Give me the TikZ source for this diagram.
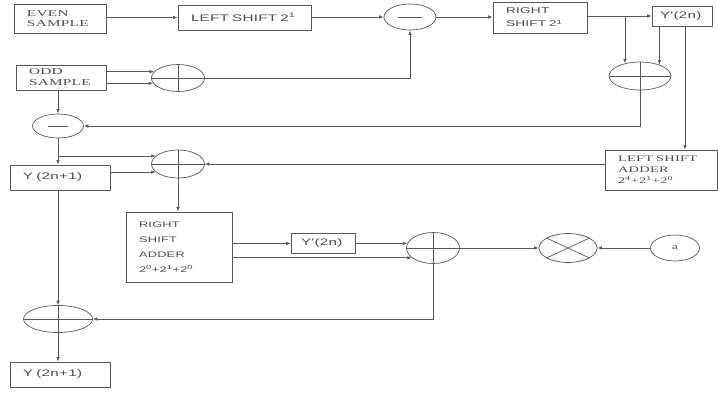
\documentclass[tikz,border=0pt]{standalone}
\usepackage{fontspec}
\usetikzlibrary{arrows.meta,shapes.geometric}
\newfontfamily\bsf[FakeStretch=1.6,LetterSpace=3]{Liberation Sans}
\newfontfamily\bsr[FakeStretch=1.7,LetterSpace=3]{Liberation Serif}
\definecolor{ln}{gray}{0.35}
\definecolor{tx}{gray}{0.3}
\tikzset{
 blk/.style={draw=ln, line width=0.7pt, rectangle, align=left, inner xsep=13pt, inner ysep=1pt, text=tx},
 ell/.style={draw=ln, line width=0.7pt, ellipse, inner sep=0pt},
 arr/.style={draw=ln, line width=0.7pt, -{Latex[length=4.5pt,width=3.5pt]}},
 wire/.style={draw=ln, line width=0.7pt},
}
\begin{document}
\begin{tikzpicture}[x=1pt,y=-1pt]
\useasboundingbox (0,0) rectangle (718,392);
% boxes
\node[blk, minimum width=92pt, minimum height=29pt, text width=66pt, font=\bsr\fontsize{9}{10.5}\selectfont] (even) at (60,18.5) {EVEN\\SAMPLE};
\node[blk, minimum width=133pt, minimum height=25pt, text width=107pt, font=\bsf\fontsize{9.5}{12}\selectfont] (ls) at (244.5,17.5) {\mbox{LEFT SHIFT 2\textsuperscript{1}}};
\node[blk, minimum width=94pt, minimum height=31pt, text width=68pt, font=\bsf\fontsize{8.5}{13}\selectfont] (rs) at (540,17.5) {RIGHT\\SHIFT 2\textsuperscript{1}};
\node[blk, inner xsep=8pt, minimum width=60pt, minimum height=20pt, text width=44pt, font=\bsf\fontsize{9.5}{12}\selectfont] (y2n) at (682,16) {Y'(2n)};
\node[blk, minimum width=90pt, minimum height=25pt, text width=64pt, font=\bsr\fontsize{9}{11}\selectfont] (odd) at (61,77.5) {ODD\\SAMPLE};
\node[blk, minimum width=100pt, minimum height=25pt, text width=74pt, font=\bsf\fontsize{9.5}{12}\selectfont] (y21) at (60,177.5) {Y (2n+1)};
\node[blk, minimum width=112pt, minimum height=40pt, text width=86pt, font=\bsr\fontsize{8.5}{11}\selectfont] (lsa) at (661,170) {LEFT SHIFT\\ADDER\\2\textsuperscript{4}+2\textsuperscript{1}+2\textsuperscript{0}};
\node[blk, minimum width=106pt, minimum height=70pt, text width=80pt, font=\bsf\fontsize{8}{15}\selectfont] (rsa) at (179,247) {RIGHT\\SHIFT\\ADDER\\2\textsuperscript{0}+2\textsuperscript{1}+2\textsuperscript{0}};
\node[blk, inner xsep=10pt, minimum width=64pt, minimum height=20pt, text width=44pt, font=\bsf\fontsize{9.5}{12}\selectfont] (y2nb) at (323,243.5) {Y'(2n)};
\node[blk, minimum width=100pt, minimum height=25pt, text width=74pt, font=\bsf\fontsize{9.5}{12}\selectfont] (y21b) at (60,374.5) {Y (2n+1)};
% ellipses
\node[ell, minimum width=52pt, minimum height=26pt] (m1) at (410,17) {};
\node[ell, minimum width=62pt, minimum height=28pt] (pa) at (640,76) {};
\node[ell, minimum width=53pt, minimum height=27pt] (pb) at (178,78) {};
\node[ell, minimum width=51pt, minimum height=24pt] (m2) at (58,126) {};
\node[ell, minimum width=53pt, minimum height=28pt] (pc) at (178,164) {};
\node[ell, minimum width=53pt, minimum height=31pt] (pd) at (433,248) {};
\node[ell, minimum width=58pt, minimum height=29pt] (tm) at (568,248) {};
\node[ell, minimum width=49pt, minimum height=26pt, text=tx, font=\bsr\fontsize{8}{10}\selectfont] (a) at (675,248) {a};
\node[ell, minimum width=69pt, minimum height=27pt] (pe) at (58,319) {};
% ellipse symbols
\foreach \n in {pa,pb,pc,pd,pe}{
  \draw[wire] (\n.west) -- (\n.east) (\n.north) -- (\n.south);
}
\draw[wire] ([xshift=-12pt]m1.center) -- ([xshift=12pt]m1.center);
\draw[wire] ([xshift=-10pt]m2.center) -- ([xshift=10pt]m2.center);
\draw[wire] (tm.155) -- (tm.-25) (tm.25) -- (tm.-155);
% connectors
\draw[arr] (even.east |- ls.west) -- (ls.west);
\draw[arr] (ls.east |- m1.west) -- (m1.west);
\draw[arr] (m1.east) -- (m1.east -| rs.west);
\draw[arr] (rs.east |- y2n.west) -- (y2n.west);
\draw[arr] (pa.140 |- y2n.west) -- (pa.140);
\draw[arr] (pa.30 |- y2n.south) -- (pa.30);
\coordinate (yv) at (685,0);
\draw[arr] (yv |- y2n.south) -- (yv |- lsa.north);
\draw[arr] (pa.south) |- (m2.east);
\draw[arr] (odd.east |- pb.165) -- (pb.165);
\draw[arr] (odd.east |- pb.192) -- (pb.192);
\draw[arr] (pb.east) -| (m1.south);
\draw[arr] (m2.north |- odd.south) -- (m2.north);
\draw[arr] (m2.south) -- (m2.south |- y21.north);
\draw[arr] (m2.south |- pc.160) -- (pc.160);
\draw[arr] (y21.east |- pc.200) -- (pc.200);
\draw[arr] (lsa.west |- pc.east) -- (pc.east);
\draw[arr] (pc.south) -- (pc.south |- rsa.north);
\draw[arr] (rsa.east |- y2nb.west) -- (y2nb.west);
\draw[arr] (rsa.east |- pd.205) -- (pd.205);
\draw[arr] (y2nb.east |- pd.170) -- (pd.170);
\draw[arr] (pd.east) -- (tm.west);
\draw[arr] (a.west) -- (tm.east);
\draw[arr] (pd.south) |- (pe.east);
\draw[arr] (pe.north |- y21.south) -- (pe.north);
\draw[arr] (pe.south) -- (pe.south |- y21b.north);
\end{tikzpicture}
\end{document}
